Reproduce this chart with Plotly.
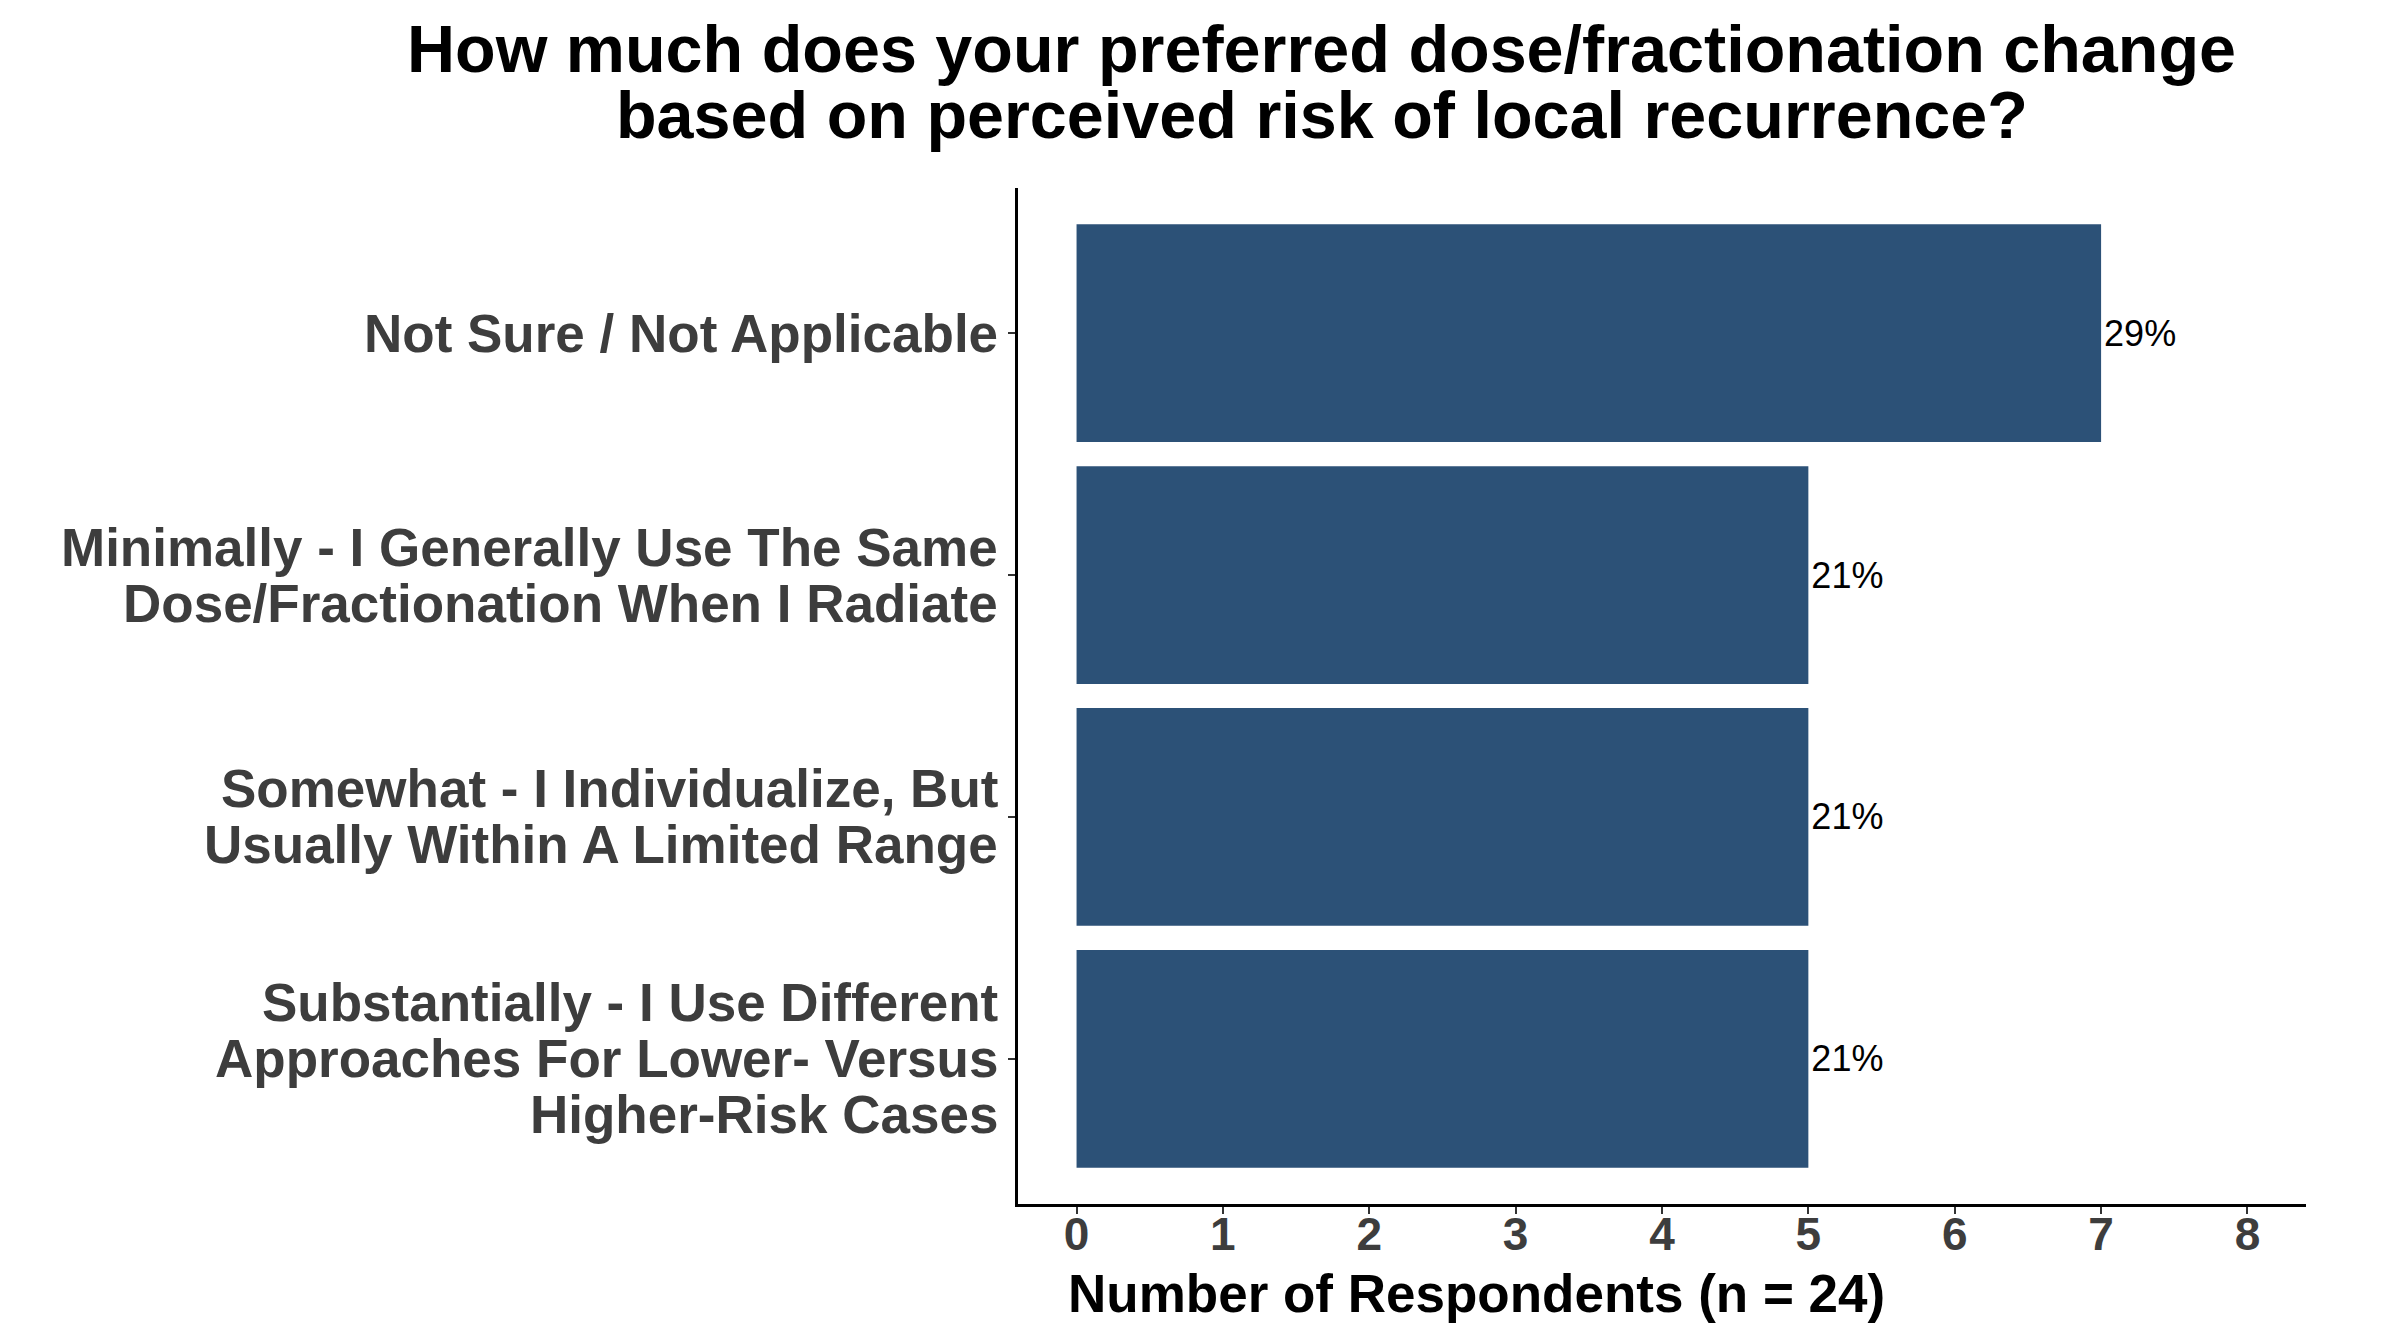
import plotly.graph_objects as go

# Datos (orden de arriba hacia abajo)
categorias = [
    "Not Sure / Not Applicable",
    "Minimally - I Generally Use The Same Dose/Fractionation When I Radiate",
    "Somewhat - I Individualize, But Usually Within A Limited Range",
    "Substantially - I Use Different Approaches For Lower- Versus Higher-Risk Cases",
]
# etiquetas del eje y partidas en lineas, como en la figura
etiquetas = [
    ["Not Sure / Not Applicable"],
    ["Minimally - I Generally Use The Same", "Dose/Fractionation When I Radiate"],
    ["Somewhat - I Individualize, But", "Usually Within A Limited Range"],
    ["Substantially - I Use Different", "Approaches For Lower- Versus", "Higher-Risk Cases"],
]
respuestas = [7, 5, 5, 5]
porcentajes = ["29%", "21%", "21%", "21%"]
n_total = 24
ticks_x = [0, 1, 2, 3, 4, 5, 6, 7, 8]

fuente = "Liberation Sans, Arial, sans-serif"
gris = "#3d3d3d"

fig = go.Figure()

fig.add_trace(go.Bar(
    x=respuestas,
    y=categorias,
    orientation="h",
    width=0.9,
    marker=dict(color="#2c5177", line=dict(width=0)),
    text=porcentajes,
    textposition="outside",
    textfont=dict(family=fuente, size=36, color="black"),
    cliponaxis=False,
    hoverinfo="x+y",
))

# Titulo en dos lineas (anotaciones para controlar el interlineado)
lineas_titulo = [
    "How much does your preferred dose/fractionation change",
    "based on perceived risk of local recurrence?",
]
for i, linea in enumerate(lineas_titulo):
    fig.add_annotation(
        text=f"<b>{linea}</b>",
        xref="paper", yref="paper",
        x=0.236, y=1.137 - i * 0.065,
        xanchor="center", yanchor="middle",
        showarrow=False,
        font=dict(family=fuente, size=66.5, color="black"),
    )

# Etiquetas del eje y, una anotacion por linea
interlineado = 56
for cat, lineas in zip(categorias, etiquetas):
    n = len(lineas)
    for i, linea in enumerate(lineas):
        fig.add_annotation(
            text=f"<b>{linea}</b>",
            xref="paper", yref="y",
            x=0, y=cat,
            xanchor="right", yanchor="middle",
            xshift=-18,
            yshift=((n - 1) / 2 - i) * interlineado,
            showarrow=False,
            font=dict(family=fuente, size=53, color=gris),
        )

# Titulo del eje x
fig.add_annotation(
    text=f"<b>Number of Respondents (n = {n_total})</b>",
    xref="paper", yref="paper",
    x=0.356, y=-0.088,
    xanchor="center", yanchor="middle",
    showarrow=False,
    font=dict(family=fuente, size=53, color="black"),
)

fig.update_layout(
    width=2400,
    height=1344,
    margin=dict(l=1010, r=102, t=180, b=148),
    paper_bgcolor="white",
    plot_bgcolor="white",
    showlegend=False,
    font=dict(family=fuente),
    bargap=0.1,
    xaxis=dict(
        range=[-0.4, 8.4],
        tickmode="array",
        tickvals=ticks_x,
        ticktext=[f"<b>{t}</b>" for t in ticks_x],
        tickfont=dict(family=fuente, size=46, color=gris),
        ticks="outside",
        ticklen=7,
        tickwidth=2,
        tickcolor="#333333",
        ticklabelstandoff=-19,
        showline=True,
        linecolor="black",
        linewidth=3,
        showgrid=False,
        zeroline=False,
    ),
    yaxis=dict(
        categoryorder="array",
        categoryarray=categorias[::-1],
        range=[-0.6, 3.6],
        showticklabels=False,
        ticks="outside",
        ticklen=7,
        tickwidth=2,
        tickcolor="#333333",
        showline=True,
        linecolor="black",
        linewidth=3,
        showgrid=False,
        zeroline=False,
    ),
)

fig.write_html("out.html")
